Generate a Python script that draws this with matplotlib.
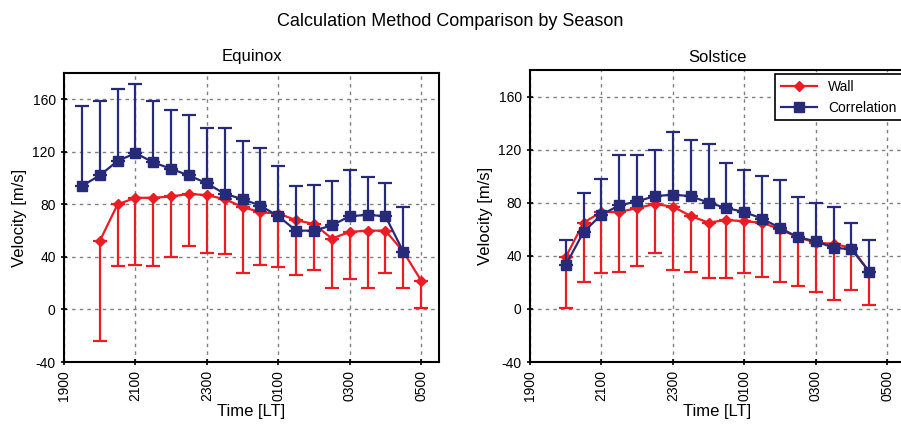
import matplotlib
matplotlib.use("Agg")
import matplotlib.pyplot as plt
from matplotlib.lines import Line2D
import numpy as np

plt.rcParams['font.family'] = ['Liberation Sans', 'DejaVu Sans']
plt.rcParams['axes.unicode_minus'] = False

# time in hours after midnight of first day (19 = 1900 LT, 29 = 0500 LT)
eq_wall_t = [20.0, 20.5, 21.0, 21.5, 22.0, 22.5, 23.0, 23.5, 24.0, 24.5, 25.0,
             25.5, 26.0, 26.5, 27.0, 27.5, 28.0, 28.5, 29.0]
eq_wall = [52, 80, 85, 85, 86, 88, 87, 84, 78, 74, 73,
           68, 65, 54, 59, 60, 60, 44, 22]
eq_wall_low = [-24, 33, 34, 33, 40, 48, 43, 42, 28, 34, 32,
               26, 30, 16, 23, 16, 28, 16, 1]

eq_corr_t = [19.5, 20.0, 20.5, 21.0, 21.5, 22.0, 22.5, 23.0, 23.5, 24.0, 24.5,
             25.0, 25.5, 26.0, 26.5, 27.0, 27.5, 28.0, 28.5]
eq_corr = [94, 102, 113, 119, 112, 107, 102, 96, 88, 84, 79,
           71, 60, 60, 64, 71, 72, 71, 44]
eq_corr_up = [155, 159, 168, 172, 159, 152, 148, 138, 138, 128, 123,
              109, 94, 95, 98, 106, 101, 96, 78]

so_t = [20.0, 20.5, 21.0, 21.5, 22.0, 22.5, 23.0, 23.5, 24.0, 24.5, 25.0,
        25.5, 26.0, 26.5, 27.0, 27.5, 28.0, 28.5]
so_wall = [39, 65, 73, 73, 76, 79, 77, 70, 65, 67, 66,
           65, 60, 54, 50, 49, 46, 28]
so_wall_low = [1, 20, 27, 28, 32, 42, 29, 28, 23, 23, 27,
               24, 20, 17, 13, 7, 14, 3]
so_corr = [33, 58, 71, 78, 81, 85, 86, 85, 80, 76, 73,
           68, 61, 54, 51, 46, 45, 28]
so_corr_up = [52, 87, 98, 116, 116, 120, 133, 127, 124, 110, 105,
              100, 97, 84, 80, 77, 65, 52]

xticks = [19, 21, 23, 25, 27, 29]
xticklabels = ['1900', '2100', '2300', '0100', '0300', '0500']
yticks = [-40, 0, 40, 80, 120, 160]

red = '#EC1C24'
blue = '#262A78'

fig = plt.figure(figsize=(9.01, 4.29), dpi=100)
ax1 = fig.add_axes([64/901, 67/429, 375/901, 289/429])
ax2 = fig.add_axes([530/901, 67/429, 375/901, 292/429])


def draw(ax, tw, w, wlow, tc, c, cup, title):
    w = np.array(w)
    c = np.array(c)
    ax.errorbar(tw, w, yerr=[w - np.array(wlow), np.zeros(len(w))],
                color=red, marker='D', markersize=5, linewidth=1.6,
                elinewidth=1.6, capsize=5, capthick=1.6, zorder=3)
    ax.errorbar(tc, c, yerr=[np.zeros(len(c)), np.array(cup) - c],
                color=blue, marker='s', markersize=7, linewidth=1.6,
                elinewidth=1.6, capsize=5, capthick=1.6, zorder=4)
    ax.set_xlim(19, 29.5)
    ax.set_ylim(-40, 180)
    ax.set_xticks(xticks)
    ax.set_xticklabels(xticklabels, rotation=90, fontsize=10)
    ax.set_yticks(yticks)
    ax.tick_params(axis='y', labelsize=10)
    ax.tick_params(direction='inout', length=5, width=1.2)
    ax.grid(True, linestyle=(0, (2.5, 3)), color='#808080', linewidth=1)
    for s in ax.spines.values():
        s.set_linewidth(1.5)
    ax.set_title(title, fontsize=12, pad=6)
    ax.set_xlabel('Time [LT]', fontsize=12, labelpad=2)
    ax.set_ylabel('Velocity [m/s]', fontsize=12, labelpad=4)


draw(ax1, eq_wall_t, eq_wall, eq_wall_low, eq_corr_t, eq_corr, eq_corr_up, 'Equinox')
draw(ax2, so_t, so_wall, so_wall_low, so_t, so_corr, so_corr_up, 'Solstice')
ax1.title.set_position((0.5, 1.0))
ax1.set_title('Equinox', fontsize=12, pad=9)

handles = [Line2D([], [], color=red, marker='D', markersize=5, linewidth=1.6),
           Line2D([], [], color=blue, marker='s', markersize=7, linewidth=1.6)]
leg = ax2.legend(handles, ['Wall', 'Correlation'], loc='upper left',
                 bbox_to_anchor=((775 - 530) / 375, 0.985),
                 fancybox=False, edgecolor='black', framealpha=1, fontsize=10,
                 handlelength=2.6, borderaxespad=0, borderpad=0.4)
leg.get_frame().set_linewidth(1.2)

fig.suptitle('Calculation Method Comparison by Season', fontsize=13, y=0.97)

fig.savefig('out.png', dpi=100)
